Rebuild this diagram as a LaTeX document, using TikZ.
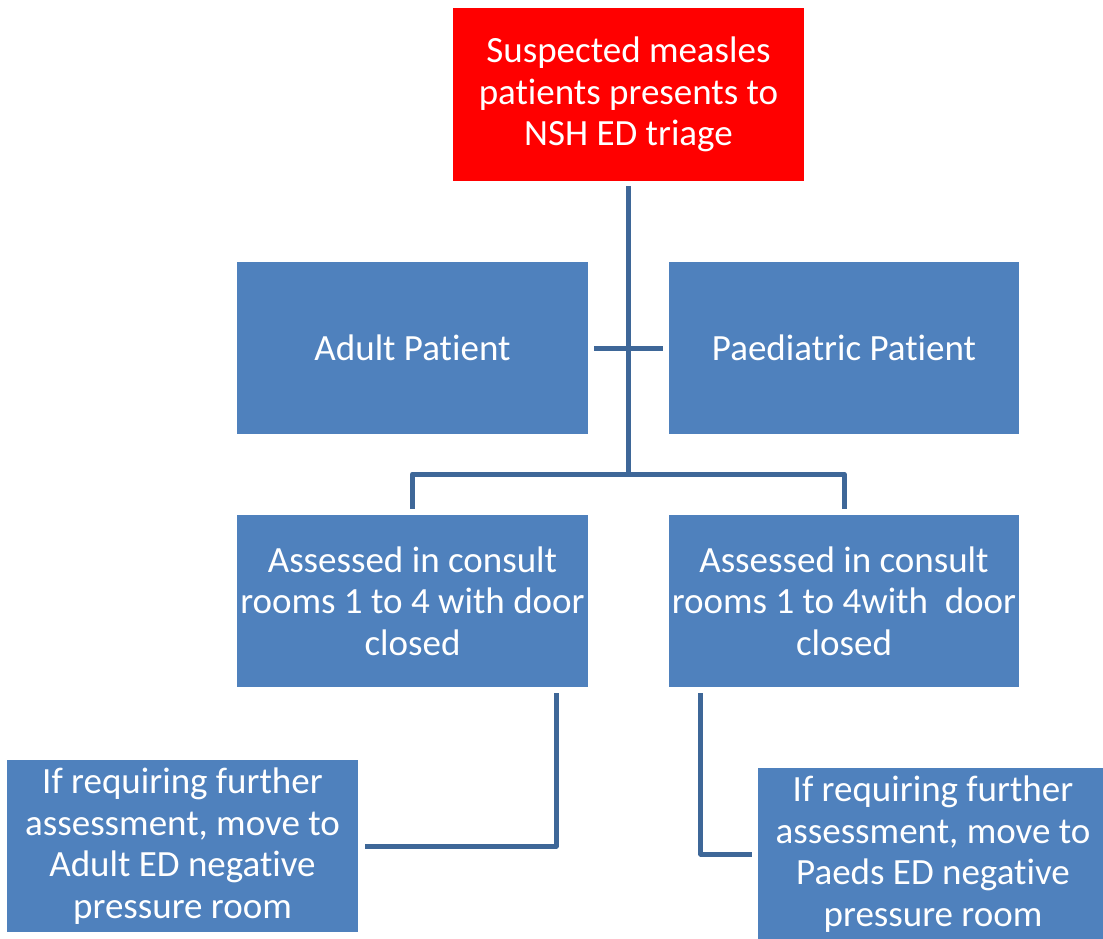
\documentclass[tikz,border=0pt]{standalone}
\usepackage{fontspec}
\setmainfont{Carlito}[Ligatures={NoCommon}]
\definecolor{boxblue}{RGB}{79,129,189}
\definecolor{linkblue}{RGB}{62,103,152}
\definecolor{topred}{RGB}{255,0,0}
\begin{document}
\begin{tikzpicture}[x=1pt,y=-1pt,
  box/.style={rectangle, fill=boxblue, text=white, inner sep=0pt, align=center,
    minimum width=351pt, minimum height=172pt, font=\fontsize{37}{41.5}\selectfont},
  redbox/.style={box, fill=topred, minimum height=173pt},
  link/.style={draw=linkblue, line width=5pt, line join=round}]
\useasboundingbox (0,0) rectangle (1103,938);
\node[redbox] (top) at (628.5,94.5) {Suspected measles\\patients presents to\\NSH ED triage};
\node[box] (adult) at (412.5,348) {Adult Patient};
\node[box, minimum width=350pt] (paed) at (844,348) {Paediatric Patient};
\node[box] (ass1) at (412.5,601) {Assessed in consult\\rooms 1 to 4 with door\\closed};
\node[box, minimum width=350pt] (ass2) at (844,601) {Assessed in consult\\rooms 1 to 4with\ \ door\\closed};
\node[box] (bl) at (182.5,846) {If requiring further\\assessment, move to\\Adult ED negative\\pressure room};
\node[box, minimum width=350pt] (br) at (933,854) {If requiring further\\assessment, move to\\Paeds ED negative\\pressure room};
\coordinate (hub) at (629,474);
\draw[link] ([yshift=-5pt]top.south) -- (top.south |- hub);
\draw[link] ([xshift=6pt]adult.east) -- ([xshift=-6pt]paed.west);
\draw[link] ([yshift=6pt]ass1.north) |- (hub) -| ([yshift=6pt]ass2.north);
\draw[link] ([xshift=-32pt,yshift=-6pt]ass1.south east) |- ([xshift=7pt]bl.east);
\draw[link] ([xshift=32pt,yshift=-6pt]ass2.south west) |- ([xshift=-6pt]br.west);
\end{tikzpicture}
\end{document}
